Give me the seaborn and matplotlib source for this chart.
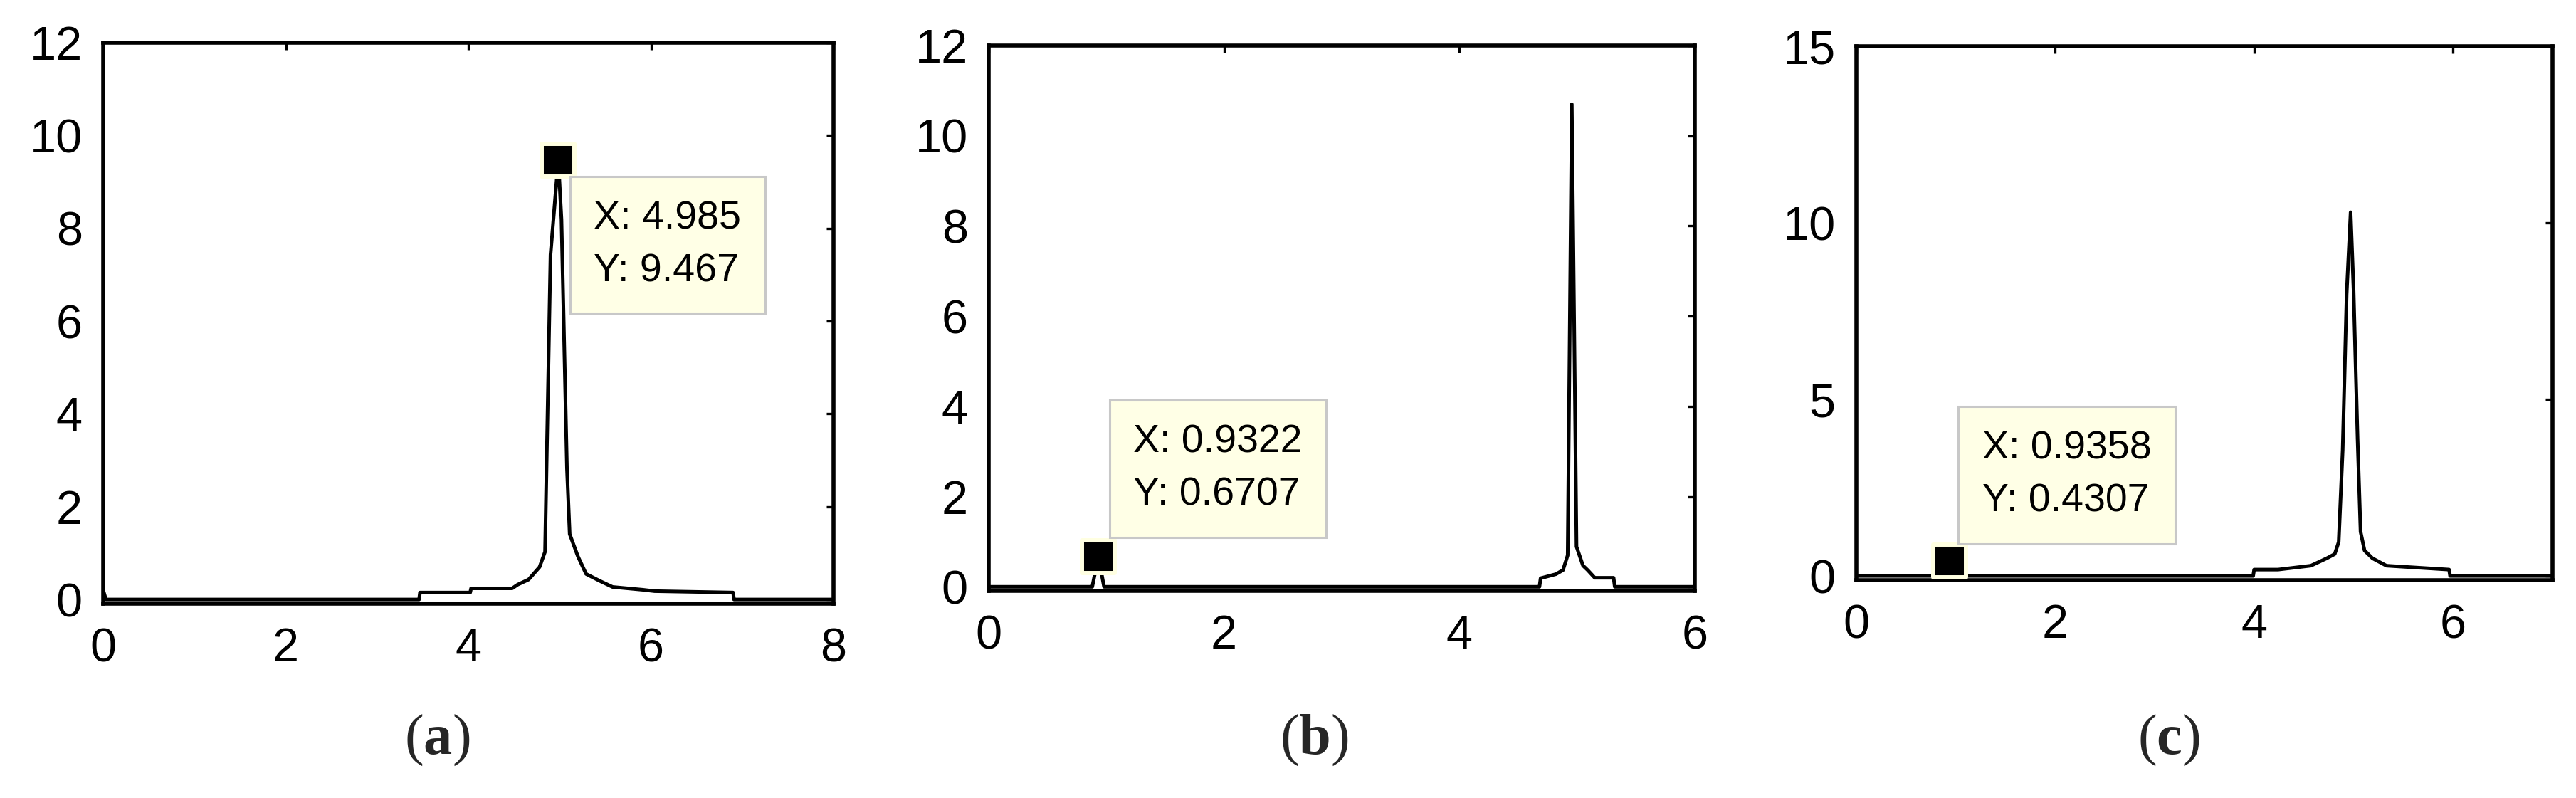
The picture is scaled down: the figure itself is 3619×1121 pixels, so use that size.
import matplotlib
matplotlib.use("Agg")
import matplotlib.pyplot as plt
import seaborn as sns

#Spectrum values
a_x = [0.0, 0.03, 3.46, 3.47, 4.02, 4.03, 4.48, 4.54, 4.66, 4.78, 4.84, 4.86, 4.90,
       4.985, 5.02, 5.05, 5.08, 5.11, 5.20, 5.29, 5.44, 5.58, 5.91, 6.04, 6.90, 6.91, 8.0]
a_y = [0.2, 0.0, 0.0, 0.15, 0.15, 0.24, 0.24, 0.32, 0.43, 0.70, 1.03, 3.22, 7.43,
       9.467, 8.19, 5.51, 2.83, 1.41, 0.93, 0.55, 0.40, 0.27, 0.21, 0.18, 0.15, 0.0, 0.0]

b_x = [0.0, 0.88, 0.9322, 0.98, 4.68, 4.69, 4.82, 4.88, 4.92, 4.955, 4.975, 4.995,
       5.05, 5.09, 5.15, 5.31, 5.32, 6.0]
b_y = [0.0, 0.0, 0.6707, 0.0, 0.0, 0.19, 0.28, 0.37, 0.70, 10.7, 5.86, 0.89,
       0.47, 0.37, 0.20, 0.20, 0.0, 0.0]

c_x = [0.0, 0.88, 0.9358, 0.99, 3.99, 4.0, 4.24, 4.57, 4.73, 4.81, 4.85, 4.89, 4.93,
       4.97, 5.00, 5.04, 5.07, 5.11, 5.19, 5.33, 5.96, 5.97, 7.0]
c_y = [0.0, 0.0, 0.4307, 0.0, 0.0, 0.18, 0.18, 0.29, 0.50, 0.62, 0.96, 3.56, 7.98,
       10.3, 8.07, 3.88, 1.25, 0.72, 0.50, 0.29, 0.18, 0.0, 0.0]

#Data tips shown on each panel
tip_x = [4.985, 0.9322, 0.9358]
tip_y = [9.467, 0.6707, 0.4307]
tip_text = ["X: 4.985\nY: 9.467", "X: 0.9322\nY: 0.6707", "X: 0.9358\nY: 0.4307"]

panel_labels = ["a", "b", "c"]
x_max = [8, 6, 7]
y_max = [12, 12, 15]
x_ticks = [[0, 2, 4, 6, 8], [0, 2, 4, 6], [0, 2, 4, 6]]
y_ticks = [[0, 2, 4, 6, 8, 10, 12], [0, 2, 4, 6, 8, 10, 12], [0, 5, 10, 15]]

series = [(a_x, a_y), (b_x, b_y), (c_x, c_y)]

#Layout (pixels of the 3619x1121 canvas) and styling
W, H = 3619, 1121
ax_px = [(145, 60, 1171, 848), (1389, 64, 2381, 830), (2608, 65, 3586, 815)]
y_bottom = [-0.09, -0.09, -0.12]
tip_offsets = [(50, -56, "top"), (49, 60, "bottom"), (46, 57, "bottom")]
label_x = [614, 1846, 3047]
label_y = 1040

sns.set_style("white")
plt.rcParams["font.family"] = ["Liberation Sans", "DejaVu Sans"]
plt.rcParams["mathtext.fontset"] = "custom"
plt.rcParams["mathtext.rm"] = "Liberation Serif"
plt.rcParams["mathtext.bf"] = "Liberation Serif:bold"

fig = plt.figure(figsize=(W / 100, H / 100), dpi=100)

for i, (xs, ys) in enumerate(series):
    l, t, r, b = ax_px[i]
    ax = fig.add_axes([l / W, 1 - b / H, (r - l) / W, (b - t) / H])

    sns.lineplot(x=xs, y=ys, estimator=None, sort=False, color="black",
                 linewidth=3.6, ax=ax)

    #datatip marker
    sns.scatterplot(x=[tip_x[i]], y=[tip_y[i]], marker="s", s=33 ** 2,
                    color="black", edgecolor="#FFFFE1", linewidth=4.3,
                    ax=ax, zorder=5, clip_on=False)

    dx, dy, va = tip_offsets[i]
    ax.annotate(tip_text[i], xy=(tip_x[i], tip_y[i]), xytext=(dx, dy),
                textcoords="offset pixels", ha="left", va=va, fontsize=40,
                linespacing=1.55, color="black", zorder=6,
                bbox=dict(boxstyle="square,pad=0.6", fc="#FFFFE6",
                          ec="#C8C8C8", lw=2.2))

    ax.set_xlim(0, x_max[i])
    ax.set_ylim(y_bottom[i], y_max[i])
    ax.set_xticks(x_ticks[i])
    ax.set_yticks(y_ticks[i])
    ax.tick_params(direction="in", length=7, width=2.4, top=True, right=True,
                   labelsize=48, colors="black")
    ax.tick_params(axis="x", pad=24)
    ax.tick_params(axis="y", pad=21)
    for sp in ax.spines.values():
        sp.set_visible(True)
        sp.set_color("black")
        sp.set_linewidth(4)
    ax.set_xlabel("")
    ax.set_ylabel("")

    fig.text(label_x[i] / W, 1 - label_y / H,
             "(" + r"$\mathbf{" + panel_labels[i] + "}$" + ")",
             ha="center", va="center", fontsize=58,
             family=["Liberation Serif", "DejaVu Serif"])

fig.savefig("out.png", dpi=100, facecolor="white")
